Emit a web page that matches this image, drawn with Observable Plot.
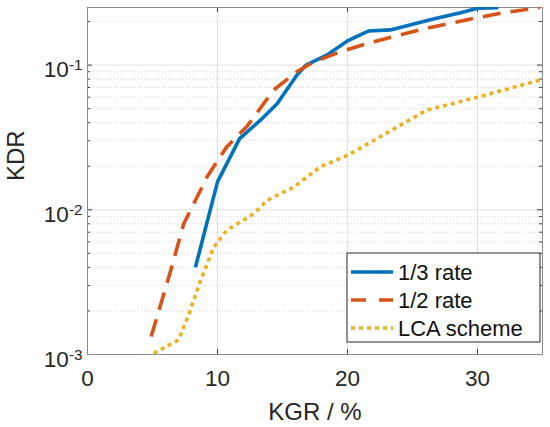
<!DOCTYPE html>
<html>
<head>
<meta charset="utf-8">
<script src="https://cdn.jsdelivr.net/npm/d3@7"></script>
<script src="https://cdn.jsdelivr.net/npm/@observablehq/plot@0.6"></script>
<style>
  html, body { margin: 0; padding: 0; background: #fff; }
  #chart { width: 550px; height: 427px; }
</style>
</head>
<body>
<div id="chart"></div>
<script>
// ---- data ----
const seriesNames = ["1/3 rate", "1/2 rate", "LCA scheme"];
const seriesColors = ["#0072BD", "#D95319", "#EDB120"];
const seriesDash = [null, "18,10", "4,4"];

const kgr13 = [8.3, 10.0, 11.7, 13.3, 14.6, 16.1, 16.8, 18.4, 20.0, 21.6, 23.3, 24.8, 26.6, 28.7, 30.0, 31.6];
const kdr13 = [0.0040, 0.0156, 0.031, 0.0416, 0.0543, 0.085, 0.100, 0.117, 0.147, 0.172, 0.175, 0.189, 0.208, 0.230, 0.247, 0.249];

const kgr12 = [4.9, 6.4, 7.4, 8.7, 9.2, 10.7, 12.3, 14.3, 16.1, 17.4, 19.5, 22.0, 26.1, 29.7, 32.0, 34.8];
const kdr12 = [0.00133, 0.0038, 0.0080, 0.0137, 0.0169, 0.0272, 0.038, 0.067, 0.090, 0.105, 0.124, 0.145, 0.180, 0.210, 0.230, 0.250];

const kgrLCA = [5.1, 7.0, 7.8, 8.7, 9.7, 10.7, 12.8, 13.8, 15.9, 17.9, 20.0, 22.5, 26.1, 29.7, 34.8];
const kdrLCA = [0.00102, 0.00126, 0.0019, 0.00325, 0.0055, 0.0072, 0.0094, 0.0116, 0.0144, 0.0198, 0.0238, 0.0319, 0.0489, 0.059, 0.0787];

const xTicks = [0, 10, 20, 30];
const xGrid = [10, 20, 30];
const yTicks = [0.001, 0.01, 0.1];
const yTickLabels = ["-3", "-2", "-1"];
const yMinor = [0.002,0.003,0.004,0.005,0.006,0.007,0.008,0.009,
                0.02,0.03,0.04,0.05,0.06,0.07,0.08,0.09,0.2];
const xDomain = [0, 35];
const yDomain = [0.001, 0.25];

const series = [
  {xs: kgr13, ys: kdr13},
  {xs: kgr12, ys: kdr12},
  {xs: kgrLCA, ys: kdrLCA}
];
const rows = series.flatMap((s, k) => s.xs.map((x, i) => ({x, y: s.ys[i], k})));

const font = "'Liberation Sans', Arial, Helvetica, sans-serif";
const frameColor = "#8a8a8a";
const tickColor = "#444";

const marks = [
  Plot.gridX(xGrid, {stroke: "#000", strokeOpacity: 0.12, strokeWidth: 1}),
  Plot.gridY(yMinor, {stroke: "#000", strokeOpacity: 0.16, strokeWidth: 1, strokeDasharray: "1,2"}),
  Plot.gridY(yTicks, {stroke: "#000", strokeOpacity: 0.12, strokeWidth: 1}),
  // inward ticks: bottom & top
  Plot.ruleX(xGrid, {x: d => d, y1: yDomain[0], y2: yDomain[0], insetTop: 0, insetBottom: 5, stroke: tickColor}),
  Plot.ruleX(xGrid, {x: d => d, y1: yDomain[1], y2: yDomain[1], insetTop: 0, insetBottom: -5, stroke: tickColor}),
  // inward ticks: left & right (major + minor)
  Plot.ruleY(yTicks, {y: d => d, x1: xDomain[0], x2: xDomain[0], insetRight: -5, stroke: tickColor}),
  Plot.ruleY(yTicks, {y: d => d, x1: xDomain[1], x2: xDomain[1], insetLeft: -5, stroke: tickColor}),
  Plot.ruleY(yMinor, {y: d => d, x1: xDomain[0], x2: xDomain[0], insetRight: -3, stroke: tickColor}),
  Plot.ruleY(yMinor, {y: d => d, x1: xDomain[1], x2: xDomain[1], insetLeft: -3, stroke: tickColor}),
  Plot.frame({stroke: frameColor, strokeWidth: 1}),
  Plot.axisX({ticks: xTicks, tickSize: 0, tickPadding: 16, fontSize: 22.5, label: null, color: "#262626"}),
  Plot.axisY({ticks: yTicks, tickSize: 0, tickPadding: 5, fontSize: 22.5, label: null, tickFormat: () => "10", dy: 5, color: "#262626"}),
  ...series.map((s, k) => Plot.line(rows.filter(r => r.k === k), {
    x: "x", y: "y", stroke: seriesColors[k], strokeWidth: 3.6,
    strokeDasharray: seriesDash[k], strokeLinecap: "butt", strokeLinejoin: "round", clip: true
  })),
  Plot.text(["KGR / %"], {frameAnchor: "bottom", dy: 48, lineAnchor: "top", fontSize: 24, fill: "#262626"}),
  Plot.text(["KDR"], {frameAnchor: "left", dx: -71, rotate: -90, fontSize: 24, fill: "#262626"})
];

const chart = Plot.plot({
  width: 550,
  height: 427,
  marginLeft: 87,
  marginRight: 8,
  marginTop: 7,
  marginBottom: 73,
  style: {fontFamily: font, background: "#fff", overflow: "visible"},
  x: {domain: xDomain},
  y: {type: "log", domain: yDomain},
  marks
});
document.getElementById("chart").appendChild(chart);

// superscript exponents on y tick labels
const svg = d3.select(chart);
svg.selectAll('g[aria-label="y-axis tick label"] text').each(function(d, i) {
  const t = d3.select(this);
  t.text("10");
  t.append("tspan").attr("dy", "-0.45em").attr("font-size", "0.68em").text(yTickLabels[i]);
});

// legend (inside axes, lower right)
const lg = svg.append("g").attr("font-family", font)
  .style("font-size", "22px").attr("text-anchor", "start");
const lx = 347, ly = 253, lw = 193, lh = 89;
lg.append("rect").attr("x", lx).attr("y", ly).attr("width", lw).attr("height", lh)
  .attr("fill", "#fff").attr("stroke", "#262626").attr("stroke-width", 1);
seriesNames.forEach((name, k) => {
  const cy = ly + 19 + k * 28;
  lg.append("line").attr("x1", lx + 4).attr("x2", lx + 46).attr("y1", cy).attr("y2", cy)
    .attr("stroke", seriesColors[k]).attr("stroke-width", 3.6)
    .attr("stroke-dasharray", seriesDash[k] === "18,10" ? "15,13" : seriesDash[k]);
  lg.append("text").attr("x", lx + 51).attr("y", cy).attr("dy", "0.36em")
    .attr("text-anchor", "start").attr("fill", "#111").text(name);
});
</script>
</body>
</html>
